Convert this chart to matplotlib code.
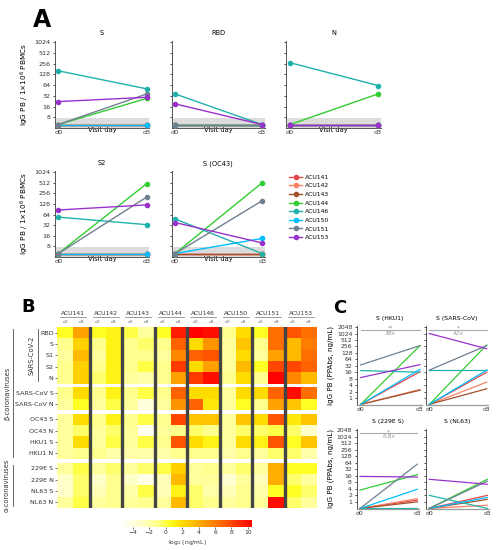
import numpy as np
import matplotlib
matplotlib.use('Agg')
import matplotlib.pyplot as plt
from matplotlib.colors import LinearSegmentedColormap

W, H = 500, 550
fig = plt.figure(figsize=(5, 5.5), dpi=100)
plt.rcParams['font.family'] = ['DejaVu Sans']


def ax_px(l, t, r, b):
    return fig.add_axes([l / W, 1 - b / H, (r - l) / W, (b - t) / H])


# ---------------- data ----------------
patients = ['ACU141', 'ACU142', 'ACU143', 'ACU144', 'ACU146', 'ACU150', 'ACU151', 'ACU153']
pat_colors = ['#e0474c', '#fa8064', '#a0522d', '#32cd32', '#20b2aa', '#00bfff', '#708090', '#9932cc']
days = ['d0', 'd3']

# Panel A: IgG PB / 1e6 PBMCs, (d0, d3) per patient
a_titles = ['S', 'RBD', 'N', 'S2', 'S (OC43)']
a_S = [[5, 5], [5, 5], [5, 5], [5, 27], [160, 50], [5, 5], [5, 36], [22, 29]]
a_RBD = [[5, 5], [5, 5], [5, 5], [5, 5], [36, 5], [5, 5], [5, 5], [19, 5]]
a_N = [[5, 5], [5, 5], [5, 5], [5, 36], [270, 62], [5, 5], [5, 5], [5, 5]]
a_S2 = [[5, 5], [5, 5], [5, 5], [5, 480], [54, 33], [5, 5], [5, 200], [86, 120]]
a_OC43 = [[5, 5], [5, 5], [5, 5], [5, 512], [48, 5], [5, 13.5], [5, 158], [38, 10]]
a_ticks = [8, 16, 32, 64, 128, 256, 512, 1024]

# Panel B heatmap: log2 (ng/mL); columns = patient x day
hm_rows = ['RBD', 'S', 'S1', 'S2', 'N', 'SARS-CoV S', 'SARS-CoV N', 'OC43 S', 'OC43 N',
           'HKU1 S', 'HKU1 N', '229E S', '229E N', 'NL63 S', 'NL63 N']
hm_RBD = [0.5, 4.5, 0.5, 1, 0, -1.5, 0.5, 9.5, 10.5, 10, -1, 2, 0.5, 6.5, 7.5, 6.5]
hm_S = [-1, 2.5, -1, 1, -1, -0.5, -1, 7, 2, 5, -1.5, 3, -1, 6.5, 3.5, 6]
hm_S1 = [-1.5, 3.5, -1.5, 1, -1, -1, -1.5, 5.5, 7, 7.5, -1.5, 2, -1.5, 4.5, 3.5, 6.5]
hm_S2 = [-1, 2.5, -1, 1, -1, 0, -1, 8.5, 2, 4.5, -1.5, 3.5, 0.5, 8, 8, 7]
hm_N = [-1, 2.5, -0.5, 1, -1.5, -2, -1, 4.5, 8.5, 10, -1, 2, -1, 10.5, 5.5, 3.5]
hm_SARS_S = [-1, 2, -1, 1, -1, 0, -1, 7, 2, 2, -1.5, 2, 2, 7, 10, 6.5]
hm_SARS_N = [-1.5, 0.5, -1.5, 0, -1.5, -4, -1.5, 5, 7, 1.5, -1.5, 0.5, -1, 4.5, 3, 0.5]
hm_OC43_S = [-1.5, 2, -1, 1, -1, 0, -1, 8, 3, 3, -1.5, 3, 2, 7.5, 1.5, 3]
hm_OC43_N = [-1.5, -0.5, -1.5, -0.5, -1.5, -5, -1.5, -1, -0.5, -1, -1.5, -0.5, -0.5, 0, -0.5, -3]
hm_HKU1_S = [-1.5, 2, -1.5, 0, -1.5, 0, -1, 7.5, 2, 1, -1.5, 2, 1, 7.5, 0.5, 3]
hm_HKU1_N = [-1.5, -1, -1, -2, -2, -2, -2, -1, -1, -1, -2, -1, -1.5, -0.5, -0.5, -2]
hm_229E_S = [-1.5, 0, -1.5, -0.5, -1.5, -0.5, 0, 2.5, -1.5, -1, -1.5, -0.5, -1.5, 4, 0.5, 0.5]
hm_229E_N = [-3, -0.5, -3, -1, -3, -4.5, -2.5, 3.5, -1.5, -1.5, -3.5, -1.5, -2.5, 4, -0.5, -1.5]
hm_NL63_S = [-3, -0.5, -2.5, -1, -2, 0, -2.5, 1, -0.5, -2, -2.5, -1, -2, 0.5, 0.5, -0.5]
hm_NL63_N = [-1.5, 0, -1.5, -1, -1.5, -1, -1.5, 3.5, -0.5, -1, -1.5, -1, -1.5, 10, -0.5, -1.5]
hm_gap_after = [4, 6, 10]   # white gap after these row indices
cbar_ticks = [-4, -2, 0, 2, 4, 6, 8, 10]

# Panel C: IgG PB (PPAbs, ng/mL), (d0, d3) per patient
c_titles = ['S (HKU1)', 'S (SARS-CoV)', 'S (229E S)', 'S (NL63)']
c_HKU1 = [[0.5, 17], [0.5, 2.5], [0.5, 2.3], [0.5, 280], [19, 16], [0.5, 22], [35, 280], [9, 36]]
c_SARS = [[0.5, 16], [0.5, 5.5], [0.5, 2.7], [0.5, 300], [20, 20], [0.5, 20], [20, 280], [1024, 200]]
c_229E = [[0.5, 1.2], [0.5, 1.4], [0.5, 1.0], [3.5, 18], [0.5, 0.5], [0.5, 3.8], [0.5, 55], [15, 14]]
c_NL63 = [[0.5, 2], [0.5, 0.7], [0.5, 1.3], [0.5, 11], [2, 0.5], [0.5, 1.6], [0.5, 9], [11, 6.5]]
c_sig_stars = ['**', '*', '*', '']
c_sig_fold = ['38x', '42x', '6.8x', '']
c_ticks = [1, 2, 4, 8, 16, 32, 64, 128, 256, 512, 1024, 2048]

# ---------------- panel A ----------------
fs_tick = 4.6
a_data = [a_S, a_RBD, a_N, a_S2, a_OC43]
a_geom = [(58.3, 146.7, 41, 128), (175, 262, 41, 128), (290, 378, 41, 128),
          (58.3, 146.7, 171, 257), (175, 262.3, 171, 257)]
a_axes = []
for k, (title, data, (x0, x1, t, b)) in enumerate(zip(a_titles, a_data, a_geom)):
    span = x1 - x0
    ax = ax_px(x0 - 0.04 * span, t, x1 + 0.03 * span, b)
    a_axes.append(ax)
    ax.set_yscale('log', base=2)
    ax.set_ylim(4, 1024 * 1.07)
    ax.set_xlim(-0.04, 1.03)
    ax.axhspan(4, 7.5, color='#dcdcdc', zorder=0, lw=0)
    for p, (vals, col) in enumerate(zip(data, pat_colors)):
        ax.plot([0, 1], vals, '-o', color=col, lw=1.0, ms=3, label=patients[p], clip_on=False, zorder=3)
    ax.set_yticks(a_ticks)
    ax.minorticks_off()
    if k in (0, 3):
        ax.set_yticklabels([str(v) for v in a_ticks])
        ax.set_ylabel('IgG PB / 1×10$^6$ PBMCs', fontsize=5.2, labelpad=2)
    else:
        ax.set_yticklabels([])
    ax.set_xticks([0, 1])
    ax.set_xticklabels(days)
    ax.set_xlabel('Visit day', fontsize=4.8, labelpad=-5.5)
    ax.tick_params(axis='both', labelsize=fs_tick, length=1.8, width=0.6, pad=1.5, colors='#333333')
    ax.tick_params(axis='x', length=0)
    for s in ['top', 'right']:
        ax.spines[s].set_visible(False)
    ax.spines['left'].set_color('#555555')
    ax.spines['left'].set_linewidth(0.7)
    ax.spines['bottom'].set_color('#555555')
    ax.spines['bottom'].set_linewidth(0.7)
    ax.set_title(title, fontsize=4.8, pad=4)

handles, labels = a_axes[0].get_legend_handles_labels()
fig.legend(handles, labels, loc='upper left', bbox_to_anchor=(287 / W, 1 - 172 / H),
           fontsize=4.4, frameon=False, handlelength=2.0, labelspacing=0.55,
           handletextpad=0.6, borderaxespad=0)

fig.text(33 / W, 1 - 27 / H, 'A', fontsize=17, fontweight='bold')

# ---------------- panel B ----------------
hm_list = [hm_RBD, hm_S, hm_S1, hm_S2, hm_N, hm_SARS_S, hm_SARS_N, hm_OC43_S, hm_OC43_N,
           hm_HKU1_S, hm_HKU1_N, hm_229E_S, hm_229E_N, hm_NL63_S, hm_NL63_N]
gap_h = 0.33
rows_vals, edges, centers = [], [0.0], []
y = 0.0
for i, r in enumerate(hm_list):
    rows_vals.append(r)
    centers.append(y + 0.5)
    y += 1.0
    edges.append(y)
    if i in hm_gap_after:
        rows_vals.append([np.nan] * len(r))
        y += gap_h
        edges.append(y)
Z = np.ma.masked_invalid(np.array(rows_vals, dtype=float))
ncol = Z.shape[1]

cmap = LinearSegmentedColormap.from_list('hm', [
    (0.00, '#fffff5'), (0.140, '#ffffc8'), (0.268, '#ffff8c'), (0.363, '#ffff20'),
    (0.459, '#ffdc00'), (0.586, '#ffae00'), (0.713, '#ff7c00'), (0.841, '#ff4800'),
    (1.00, '#ff0000')])
vmin, vmax = -5.2, 10.5

axh = ax_px(57, 327, 317, 508)
mesh = axh.pcolormesh(np.arange(ncol + 1), edges, Z, cmap=cmap, vmin=vmin, vmax=vmax)
axh.set_xlim(0, ncol)
axh.set_ylim(edges[-1], 0)
for j in range(2, ncol, 2):
    axh.axvline(j, color='#444444', lw=2.4, zorder=3)
axh.set_yticks(centers)
axh.set_yticklabels(hm_rows)
axh.set_xticks([])
axh.tick_params(axis='y', labelsize=4.6, length=1.5, width=0.5, pad=1, colors='#333333')
for s in axh.spines.values():
    s.set_visible(False)
for p, name in enumerate(patients):
    xc = 2 * p + 1
    axh.text(xc, -0.95, name, ha='center', va='bottom', fontsize=4.3, color='#333333', clip_on=False)
    axh.plot([2 * p + 0.2, 2 * p + 1.8], [-0.85, -0.85], color='#777777', lw=0.5, clip_on=False)
    for d, lab in enumerate(days):
        axh.text(2 * p + 0.5 + d, -0.42, lab, ha='center', va='center', fontsize=3.2,
                 color='#666666', clip_on=False)

# group annotations
def row_y(i):
    return centers[i]

trans = axh.get_yaxis_transform()
def group(i0, i1, xline, xtext, label, fs):
    axh.plot([xline, xline], [row_y(i0) - 0.3, row_y(i1) + 0.3], color='#666666', lw=0.7,
             transform=trans, clip_on=False)
    axh.text(xtext, (row_y(i0) + row_y(i1)) / 2, label, rotation=90, ha='center', va='center',
             fontsize=fs, color='#333333', transform=trans, clip_on=False)

group(0, 4, (38 - 57) / 260, (32 - 57) / 260, 'SARS-CoV-2', 4.8)
group(0, 10, (13 - 57) / 260, (7 - 57) / 260, 'β-coronaviruses', 4.8)
group(11, 14, (13 - 57) / 260, (7 - 57) / 260, 'α-coronaviruses', 4.8)

fig.text(21 / W, 1 - 312 / H, 'B', fontsize=13, fontweight='bold')

# colorbar
cax = ax_px(123, 520, 252, 527)
cb = fig.colorbar(mesh, cax=cax, orientation='horizontal')
cb.set_ticks(cbar_ticks)
cb.set_ticklabels(['−4', '−2', '0', '2', '4', '6', '8', '10'])
cb.ax.tick_params(labelsize=4.3, length=1.5, width=0.5, pad=1, colors='#333333')
cb.outline.set_visible(False)
cb.set_label('log$_2$ (ng/mL)', fontsize=4.3, labelpad=2, color='#333333')

# ---------------- panel C ----------------
c_data = [c_HKU1, c_SARS, c_229E, c_NL63]
c_geom = [(360.7, 420, 326, 405), (429.3, 486.7, 326, 405),
          (360, 417.3, 429, 509), (429.3, 487.3, 429, 509)]
for k, (title, data, (x0, x1, t, b)) in enumerate(zip(c_titles, c_data, c_geom)):
    span = x1 - x0
    ax = ax_px(x0 - 0.06 * span, t, x1 + 0.03 * span, b)
    ax.set_yscale('log', base=2)
    ax.set_ylim(0.47, 2300)
    ax.set_xlim(-0.06, 1.03)
    for vals, col in zip(data, pat_colors):
        ax.plot([0, 1], vals, '-', color=col, lw=0.9, clip_on=False)
    ax.set_yticks(c_ticks)
    ax.minorticks_off()
    if k in (0, 2):
        ax.set_yticklabels([str(v) for v in c_ticks])
        ax.set_ylabel('IgG PB (PPAbs, ng/mL)', fontsize=5.1, labelpad=2)
    else:
        ax.set_yticklabels([])
    ax.set_xticks([0, 1])
    ax.set_xticklabels(days)
    ax.tick_params(axis='both', labelsize=4.4, length=1.8, width=0.6, pad=1.5, colors='#333333')
    ax.tick_params(axis='x', length=0)
    for s in ['top', 'right']:
        ax.spines[s].set_visible(False)
    ax.spines['left'].set_color('#555555')
    ax.spines['left'].set_linewidth(0.7)
    ax.spines['bottom'].set_color('#999999')
    ax.spines['bottom'].set_linewidth(0.9)
    ax.set_title(title, fontsize=4.4, pad=4)
    if c_sig_stars[k]:
        ax.plot([0, 1], [1450, 1450], color='#aaaaaa', lw=0.8, clip_on=False)
        ax.text(0.5, 1750, c_sig_stars[k], ha='center', va='center', fontsize=4, color='#888888')
        ax.text(0.5, 1050, c_sig_fold[k], ha='center', va='center', fontsize=4.2,
                color='#999999', style='italic')

fig.text(333 / W, 1 - 313 / H, 'C', fontsize=13, fontweight='bold')

fig.savefig('out.png', dpi=100)
